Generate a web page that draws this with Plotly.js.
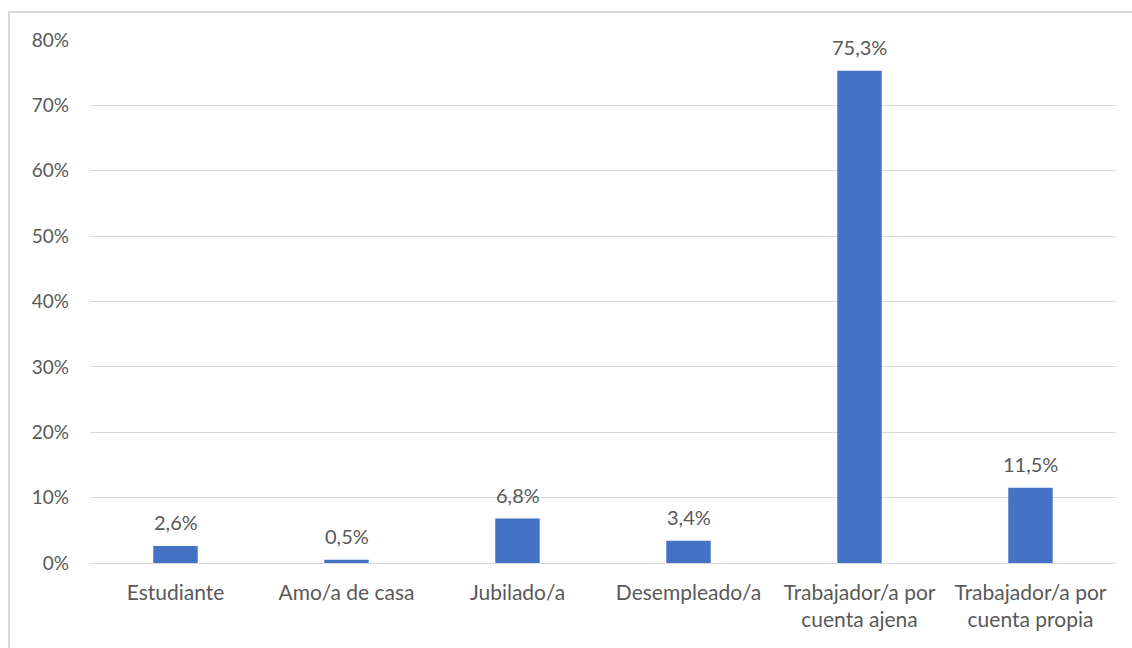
<!DOCTYPE html>
<html>
<head>
<meta charset="utf-8">
<script src="https://cdn.plot.ly/plotly-3.0.1.min.js"></script>
<style>
html,body{margin:0;padding:0;background:#fff;}
#chart{width:1132px;height:648px;}
#frame{position:absolute;left:8px;top:11px;width:1124px;height:637px;border-left:2px solid #d9d9d9;border-top:2px solid #d9d9d9;pointer-events:none;}
</style>
</head>
<body>
<div id="chart"></div>
<div id="frame"></div>
<script>
const categories = ["Estudiante", "Amo/a de casa", "Jubilado/a", "Desempleado/a", "Trabajador/a por<br>cuenta ajena", "Trabajador/a por<br>cuenta propia"];
const values = [0.026, 0.005, 0.068, 0.034, 0.753, 0.115];
const labels = ["2,6%", "0,5%", "6,8%", "3,4%", "75,3%", "11,5%"];
const yTicks = [0, 0.1, 0.2, 0.3, 0.4, 0.5, 0.6, 0.7, 0.8];

const fam = "Lato, 'Open Sans', sans-serif";
const tickFont = {family: fam, size: 19, color: "#595959"};
const catFont = {family: fam, size: 21, color: "#595959"};
const labFont = {family: fam, size: 20, color: "#595959"};

const annotations = categories.map((c, i) => ({
  x: c, y: values[i], xref: "x", yref: "y",
  text: labels[i], showarrow: false,
  yanchor: "middle", yshift: 24,
  font: labFont
}));

Plotly.newPlot("chart", [{
  type: "bar",
  x: categories,
  y: values,
  marker: {color: "#4472C4"},
  width: 0.26,
  hoverinfo: "none"
}], {
  width: 1132,
  height: 648,
  margin: {l: 90, r: 16, t: 40, b: 85},
  paper_bgcolor: "#ffffff",
  plot_bgcolor: "#ffffff",
  separators: ",.",
  font: tickFont,
  showlegend: false,
  annotations: annotations,
  xaxis: {
    tickfont: catFont,
    showgrid: false,
    showline: false,
    zeroline: false,
    ticks: "",
    ticklabelstandoff: 15
  },
  yaxis: {
    range: [0, 0.8],
    tickvals: yTicks,
    tickformat: ".0%",
    tickfont: tickFont,
    showgrid: true,
    gridcolor: "#d9d9d9",
    gridwidth: 1,
    zeroline: true,
    zerolinecolor: "#d9d9d9",
    zerolinewidth: 1,
    showline: false,
    ticks: "",
    ticklabelstandoff: 20
  }
}, {displayModeBar: false, staticPlot: true});
</script>
</body>
</html>
